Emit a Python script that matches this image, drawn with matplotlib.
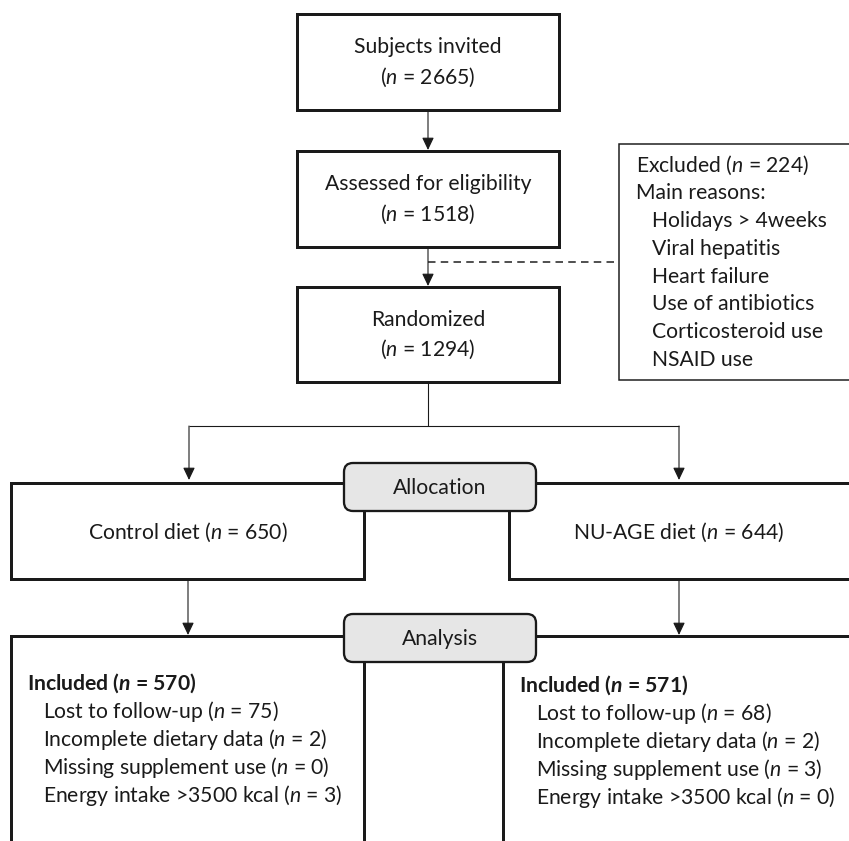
import matplotlib
matplotlib.use("Agg")
import matplotlib.pyplot as plt
from matplotlib.patches import Rectangle, FancyBboxPatch

# ---------------- data ----------------
flow_labels = ["Subjects invited", "Assessed for eligibility", "Randomized"]
flow_counts = [2665, 1518, 1294]
excluded_count = 224
exclusion_reasons = ["Holidays > 4weeks", "Viral hepatitis", "Heart failure",
                     "Use of antibiotics", "Corticosteroid use", "NSAID use"]
stage_labels = ["Allocation", "Analysis"]
arm_labels = ["Control diet", "NU-AGE diet"]
arm_counts = [650, 644]
included_counts = [570, 571]
dropout_reasons = ["Lost to follow-up", "Incomplete dietary data",
                   "Missing supplement use", "Energy intake >3500 kcal"]
dropout_control = [75, 2, 0, 3]
dropout_nuage = [68, 2, 3, 0]
dropout_counts = [dropout_control, dropout_nuage]

# ---------------- style ----------------
FONT = "Lato"
plt.rcParams["font.family"] = [FONT, "DejaVu Sans"]
plt.rcParams["mathtext.fontset"] = "custom"
plt.rcParams["mathtext.rm"] = FONT
plt.rcParams["mathtext.it"] = FONT + ":style=italic"
plt.rcParams["mathtext.bf"] = FONT + ":style=italic:weight=bold"

FS = 15.2
INK = "#1a1a1a"
PX = 0.72  # points per pixel at dpi 100
THICK = 3 * PX
THIN = 1.1 * PX

W, H = 849, 841
fig = plt.figure(figsize=(W / 100, H / 100), dpi=100)
ax = fig.add_axes([0, 0, 1, 1])
ax.set_xlim(0, W)
ax.set_ylim(H, 0)
ax.axis("off")

def nstr(v, bold=False):
    return ("$\\mathbf{n}$" if bold else "$\\mathit{n}$") + " = %d" % v

def box(x0, y0, x1, y1, lw=THICK, z=2):
    ax.add_patch(Rectangle((x0, y0), x1 - x0, y1 - y0, fill=True, fc="white",
                           ec=INK, lw=lw, zorder=z, joinstyle="miter"))

def arrow(x, y0, y1):
    ax.annotate("", xy=(x, y1), xytext=(x, y0),
                arrowprops=dict(arrowstyle="-|>,head_length=0.42,head_width=0.2",
                                lw=THIN, color=INK, shrinkA=0, shrinkB=0,
                                mutation_scale=18), zorder=5)

def line(xs, ys, **kw):
    ax.plot(xs, ys, color=INK, lw=kw.pop("lw", THIN), solid_capstyle="butt", zorder=1, **kw)

# ---------------- main vertical flow ----------------
cx = 428
flow_boxes = [(14, 110), (151, 247), (287, 382)]
for (t, b), lab, cnt in zip(flow_boxes, flow_labels, flow_counts):
    box(297, t, 559, b)
    mid = (t + b) / 2
    ax.text(cx, mid - 15, lab, ha="center", va="center", fontsize=FS, color=INK, zorder=6)
    ax.text(cx, mid + 15, "(" + nstr(cnt) + ")", ha="center", va="center",
            fontsize=FS, color=INK, zorder=6)

arrow(cx, 110, 150)
arrow(cx, 247, 286)

# exclusion box and dashed connector
line([cx, 619], [262, 262], lw=1.5 * PX, linestyle=(0, (5, 3.5)))
box(619, 144, 856, 380, lw=1.5 * PX)
excl_lines = ["Excluded (" + nstr(excluded_count) + ")", "Main reasons:"]
for i, s in enumerate(excl_lines):
    ax.text(636, 165 + 28 * i, s, ha="left", va="center", fontsize=FS, color=INK, zorder=6)
for i, s in enumerate(exclusion_reasons):
    ax.text(652, 221 + 27.8 * i, s, ha="left", va="center", fontsize=FS, color=INK, zorder=6)

# split to the two arms
arm_x = [189, 679]
line([cx, cx], [382, 426])
line([arm_x[0], arm_x[1]], [426, 426])
for x in arm_x:
    arrow(x, 426, 480)

# arm boxes
arm_boxes = [(11, 364), (509, 856)]
for (x0, x1), lab, cnt in zip(arm_boxes, arm_labels, arm_counts):
    box(x0, 483, x1, 579)
    ax.text((x0 + min(x1, W)) / 2, 532, lab + " (" + nstr(cnt) + ")",
            ha="center", va="center", fontsize=FS, color=INK, zorder=6)

for x in [188, 679]:
    arrow(x, 579, 635)

# analysis boxes (open at bottom)
ana_boxes = [(11, 364), (503, 856)]
for (x0, x1) in ana_boxes:
    box(x0, 636, x1, 860)

# stage labels (rounded grey boxes)
for y0, lab in zip([463, 614], stage_labels):
    ax.add_patch(FancyBboxPatch((344, y0), 536 - 344, 48,
                                boxstyle="round,pad=0,rounding_size=9",
                                fc="#e6e6e6", ec=INK, lw=2.3 * PX, zorder=4))
    ax.text(440, y0 + 25, lab, ha="center", va="center", fontsize=FS, color=INK, zorder=6)

# analysis contents
text_x = [(27, 43), (519, 536)]
text_y0 = [683, 685]
for (xa, xb), y0, inc, cnts in zip(text_x, text_y0, included_counts, dropout_counts):
    ax.text(xa, y0, "Included (" + nstr(inc, bold=True) + ")", ha="left", va="center",
            fontsize=FS, fontweight="bold", color=INK, zorder=6)
    for i, (r, c) in enumerate(zip(dropout_reasons, cnts)):
        ax.text(xb, y0 + 28 * (i + 1), r + " (" + nstr(c) + ")", ha="left", va="center",
                fontsize=FS, color=INK, zorder=6)

fig.savefig("out.png", dpi=100, facecolor="white")
